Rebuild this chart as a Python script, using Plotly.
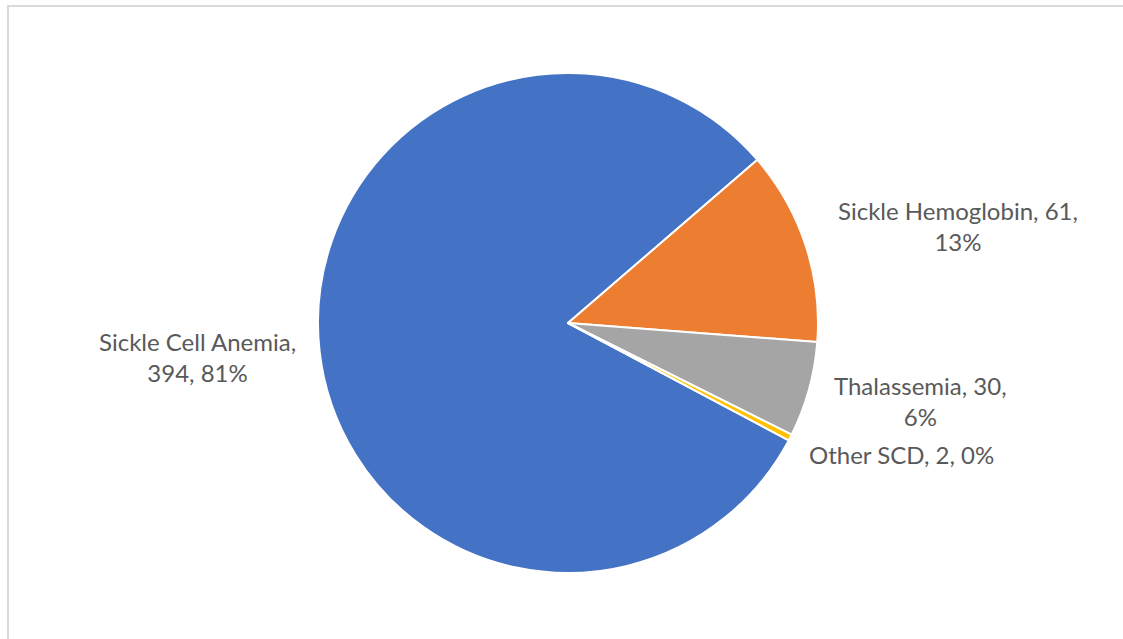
import plotly.graph_objects as go

# Diagnosis counts
categories = ["Sickle Cell Anemia", "Sickle Hemoglobin", "Thalassemia", "Other SCD"]
counts = [394, 61, 30, 2]
colors = ["#4472C4", "#ED7D31", "#A5A5A5", "#FFC000"]
# how many comma-separated parts sit on the first label line
first_line_parts = [1, 2, 2, 3]
# label centres in pixels (x from left, y from top)
label_px = [(197, 357), (958, 226), (920, 401), (901, 454)]

W, H = 1123, 639
CX, CY, R = 568, 323, 250

total = sum(counts)

fig = go.Figure(
    go.Pie(
        labels=categories,
        values=counts,
        sort=False,
        direction="clockwise",
        rotation=118,
        marker=dict(colors=colors, line=dict(color="white", width=2)),
        textinfo="none",
        hoverinfo="label+value+percent",
        showlegend=False,
        domain=dict(
            x=[(CX - R) / W, (CX + R) / W],
            y=[(H - CY - R) / H, (H - CY + R) / H],
        ),
    )
)

annotations = []
for name, v, n, (px, py) in zip(categories, counts, first_line_parts, label_px):
    parts = [name, str(v), f"{round(100 * v / total)}%"]
    first = ", ".join(parts[:n])
    rest = ", ".join(parts[n:])
    text = first + ("," if rest else "")
    if rest:
        text += "<br>" + rest
    annotations.append(
        dict(
            x=px / W,
            y=1 - py / H,
            xref="paper",
            yref="paper",
            text=text,
            showarrow=False,
            xanchor="center",
            yanchor="middle",
            align="center",
            font=dict(family="Lato", size=24, color="#595959"),
        )
    )

fig.update_layout(
    width=W,
    height=H,
    margin=dict(l=0, r=0, t=0, b=0),
    paper_bgcolor="white",
    plot_bgcolor="white",
    annotations=annotations,
    shapes=[
        dict(type="line", xref="paper", yref="paper",
             x0=7 / W, x1=1, y0=1 - 6 / H, y1=1 - 6 / H,
             line=dict(color="#D9D9D9", width=2)),
        dict(type="line", xref="paper", yref="paper",
             x0=8 / W, x1=8 / W, y0=0, y1=1 - 5 / H,
             line=dict(color="#D9D9D9", width=2)),
    ],
)

fig.write_html("out.html")
